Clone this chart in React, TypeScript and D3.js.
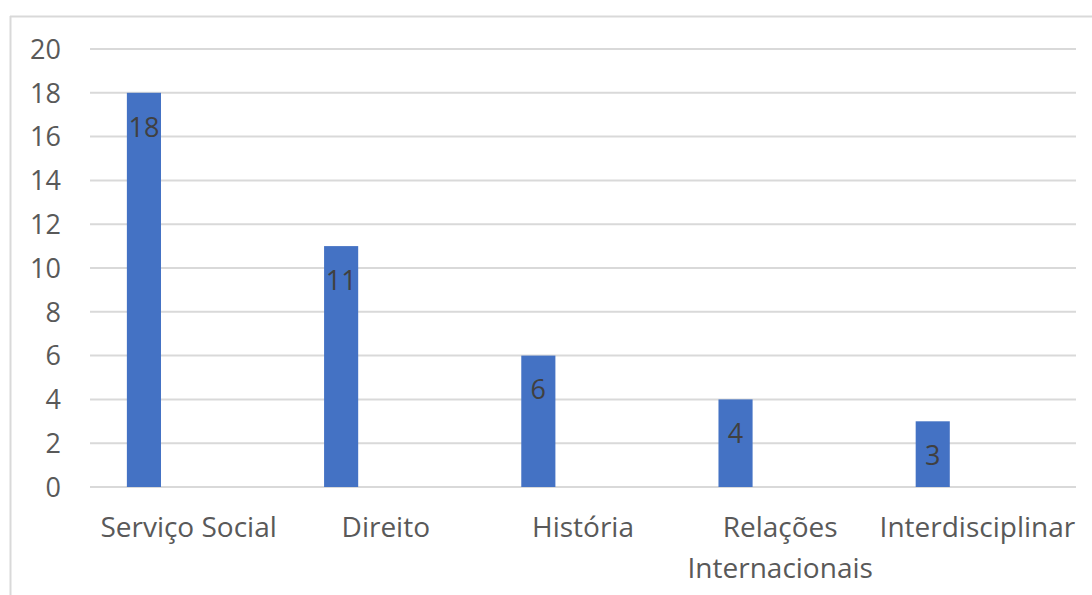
import React from "react";
import * as d3 from "d3";

const categories = ["Serviço Social", "Direito", "História", "Relações Internacionais", "Interdisciplinar"];
const categoryLines = [["Serviço Social"], ["Direito"], ["História"], ["Relações", "Internacionais"], ["Interdisciplinar"]];
const values = [18, 11, 6, 4, 3];
const yTicks = [0, 2, 4, 6, 8, 10, 12, 14, 16, 18, 20];

const W = 1092;
const H = 595;
const plot = { left: 90, right: 1076, top: 49, bottom: 487 };
const FONT = "'Open Sans', 'Noto Sans', sans-serif";

export default function App() {
  const x = d3.scaleBand<string>().domain(categories).range([plot.left, plot.right]).padding(0);
  const y = d3.scaleLinear().domain([0, 20]).range([plot.bottom, plot.top]);
  const bw = x.bandwidth();
  const barOffset = bw * 0.187;
  const barWidth = bw * 0.173;

  return (
    <svg
      width={W}
      height={H}
      style={{ position: "absolute", left: 0, top: 0, background: "#fff" }}
      fontFamily={FONT}
    >
      <rect x={0} y={0} width={W} height={H} fill="#fff" />
      {/* chart area border */}
      <line x1={10} x2={W} y1={16.5} y2={16.5} stroke="#d9d9d9" strokeWidth={2} />
      <line x1={10.5} x2={10.5} y1={16} y2={H} stroke="#d9d9d9" strokeWidth={2} />

      {yTicks.map((t) => (
        <g key={t}>
          <line x1={plot.left} x2={plot.right} y1={y(t)} y2={y(t)} stroke="#d9d9d9" strokeWidth={2} />
          <text x={61} y={y(t)} dy="0.36em" textAnchor="end" fontSize={27} fill="#595959">
            {t}
          </text>
        </g>
      ))}

      {categories.map((c, i) => {
        const bx = (x(c) as number) + barOffset;
        return (
          <g key={c}>
            <rect x={bx} y={y(values[i])} width={barWidth} height={y(0) - y(values[i])} fill="#4472C4" />
            <text
              x={bx + barWidth / 2}
              y={y(values[i]) + 34}
              dy="0.36em"
              textAnchor="middle"
              fontSize={27}
              fill="#404040"
            >
              {values[i]}
            </text>
          </g>
        );
      })}

      {categories.map((c, i) => {
        const cx = (x(c) as number) + bw / 2;
        return (
          <text key={c} x={cx} y={527} textAnchor="middle" fontSize={28} fill="#595959">
            {categoryLines[i].map((ln, j) => (
              <tspan key={j} x={cx} y={527 + j * 41} dy="0.36em">
                {ln}
              </tspan>
            ))}
          </text>
        );
      })}
    </svg>
  );
}
